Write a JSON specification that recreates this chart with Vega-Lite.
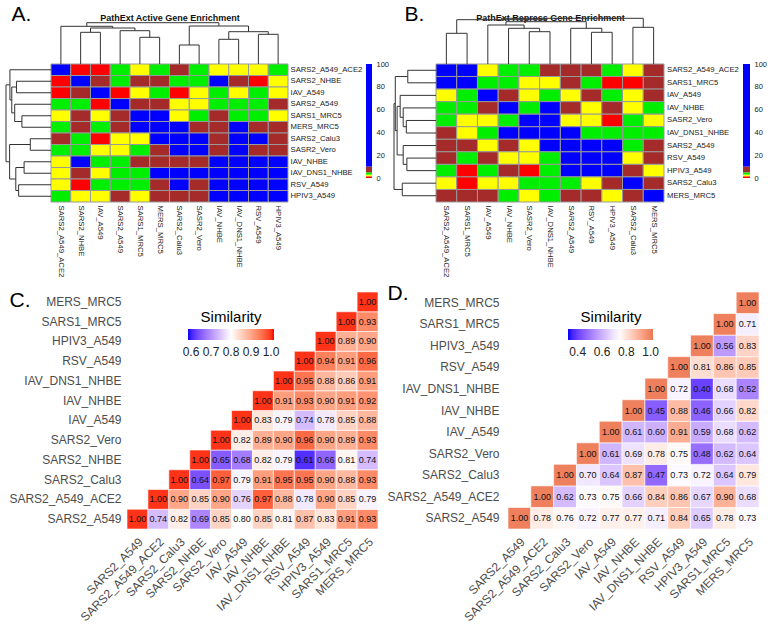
{
 "$schema": "https://vega.github.io/schema/vega-lite/v6.json",
 "background": "white",
 "padding": {"left": 5, "top": 3, "right": 3, "bottom": 3},
 "config": {"font": "Liberation Sans", "view": {"stroke": null}, "axis": {"grid": false, "labelFont": "Liberation Sans", "titleFont": "Liberation Sans"}, "legend": {"labelFont": "Liberation Sans", "titleFont": "Liberation Sans"}},
 "datasets": {
  "cb": [{"lo":0,"hi":1.5},{"lo":1.5,"hi":3},{"lo":3,"hi":5},{"lo":5,"hi":10},{"lo":10,"hi":100}],
  "dA": [
   {"p":4.5,"p2":5.5,"h":26.7,"h2":26.7},{"p":4.5,"p2":4.5,"h":0,"h2":26.7},{"p":5.5,"p2":5.5,"h":0,"h2":26.7},
   {"p":1.5,"p2":2.5,"h":31.7,"h2":31.7},{"p":1.5,"p2":1.5,"h":0,"h2":31.7},{"p":2.5,"p2":2.5,"h":0,"h2":31.7},
   {"p":3.5,"p2":5,"h":33.3,"h2":33.3},{"p":3.5,"p2":3.5,"h":0,"h2":33.3},{"p":5,"p2":5,"h":26.7,"h2":33.3},
   {"p":2,"p2":4.25,"h":36,"h2":36},{"p":2,"p2":2,"h":31.7,"h2":36},{"p":4.25,"p2":4.25,"h":33.3,"h2":36},
   {"p":0.5,"p2":3.125,"h":37.7,"h2":37.7},{"p":0.5,"p2":0.5,"h":0,"h2":37.7},{"p":3.125,"p2":3.125,"h":36,"h2":37.7},
   {"p":6.5,"p2":7.5,"h":19,"h2":19},{"p":6.5,"p2":6.5,"h":0,"h2":19},{"p":7.5,"p2":7.5,"h":0,"h2":19},
   {"p":8.5,"p2":9.5,"h":24.7,"h2":24.7},{"p":8.5,"p2":8.5,"h":0,"h2":24.7},{"p":9.5,"p2":9.5,"h":0,"h2":24.7},
   {"p":10.5,"p2":11.5,"h":29.7,"h2":29.7},{"p":10.5,"p2":10.5,"h":0,"h2":29.7},{"p":11.5,"p2":11.5,"h":0,"h2":29.7},
   {"p":9,"p2":11,"h":32.3,"h2":32.3},{"p":9,"p2":9,"h":24.7,"h2":32.3},{"p":11,"p2":11,"h":29.7,"h2":32.3},
   {"p":7,"p2":10,"h":38,"h2":38},{"p":7,"p2":7,"h":19,"h2":38},{"p":10,"p2":10,"h":32.3,"h2":38},
   {"p":1.8125,"p2":8.5,"h":41.3,"h2":41.3},{"p":1.8125,"p2":1.8125,"h":37.7,"h2":41.3},{"p":8.5,"p2":8.5,"h":38,"h2":41.3}
  ],
  "dB": [
   {"p":4.5,"p2":5.5,"h":32.3,"h2":32.3},{"p":4.5,"p2":4.5,"h":0,"h2":32.3},{"p":5.5,"p2":5.5,"h":0,"h2":32.3},
   {"p":3.5,"p2":5,"h":35.7,"h2":35.7},{"p":3.5,"p2":3.5,"h":0,"h2":35.7},{"p":5,"p2":5,"h":32.3,"h2":35.7},
   {"p":2.5,"p2":4.25,"h":39,"h2":39},{"p":2.5,"p2":2.5,"h":0,"h2":39},{"p":4.25,"p2":4.25,"h":35.7,"h2":39},
   {"p":7.5,"p2":8.5,"h":31.7,"h2":31.7},{"p":7.5,"p2":7.5,"h":0,"h2":31.7},{"p":8.5,"p2":8.5,"h":0,"h2":31.7},
   {"p":6.5,"p2":8,"h":35.7,"h2":35.7},{"p":6.5,"p2":6.5,"h":0,"h2":35.7},{"p":8,"p2":8,"h":31.7,"h2":35.7},
   {"p":3.375,"p2":7.25,"h":42.3,"h2":42.3},{"p":3.375,"p2":3.375,"h":39,"h2":42.3},{"p":7.25,"p2":7.25,"h":35.7,"h2":42.3},
   {"p":0.5,"p2":1.5,"h":30.7,"h2":30.7},{"p":0.5,"p2":0.5,"h":0,"h2":30.7},{"p":1.5,"p2":1.5,"h":0,"h2":30.7},
   {"p":1,"p2":5.3125,"h":44.3,"h2":44.3},{"p":1,"p2":1,"h":30.7,"h2":44.3},{"p":5.3125,"p2":5.3125,"h":42.3,"h2":44.3},
   {"p":9.5,"p2":10.5,"h":36.7,"h2":36.7},{"p":9.5,"p2":9.5,"h":0,"h2":36.7},{"p":10.5,"p2":10.5,"h":0,"h2":36.7},
   {"p":3.15625,"p2":10,"h":45.7,"h2":45.7},{"p":3.15625,"p2":3.15625,"h":44.3,"h2":45.7},{"p":10,"p2":10,"h":36.7,"h2":45.7}
  ],
  "heatA": [
   {"r":"SARS2_A549_ACE2","c":"SARS2_A549_ACE2","v":60},{"r":"SARS2_A549_ACE2","c":"SARS2_NHBE","v":1},{"r":"SARS2_A549_ACE2","c":"IAV_A549","v":1},{"r":"SARS2_A549_ACE2","c":"SARS2_A549","v":4},{"r":"SARS2_A549_ACE2","c":"SARS1_MRC5","v":2},{"r":"SARS2_A549_ACE2","c":"MERS_MRC5","v":4},{"r":"SARS2_A549_ACE2","c":"SARS2_Calu3","v":7},{"r":"SARS2_A549_ACE2","c":"SASR2_Vero","v":4},{"r":"SARS2_A549_ACE2","c":"IAV_NHBE","v":2},{"r":"SARS2_A549_ACE2","c":"IAV_DNS1_NHBE","v":2},{"r":"SARS2_A549_ACE2","c":"RSV_A549","v":2},{"r":"SARS2_A549_ACE2","c":"HPIV3_A549","v":4},
   {"r":"SARS2_NHBE","c":"SARS2_A549_ACE2","v":1},{"r":"SARS2_NHBE","c":"SARS2_NHBE","v":60},{"r":"SARS2_NHBE","c":"IAV_A549","v":7},{"r":"SARS2_NHBE","c":"SARS2_A549","v":4},{"r":"SARS2_NHBE","c":"SARS1_MRC5","v":7},{"r":"SARS2_NHBE","c":"MERS_MRC5","v":7},{"r":"SARS2_NHBE","c":"SARS2_Calu3","v":4},{"r":"SARS2_NHBE","c":"SASR2_Vero","v":4},{"r":"SARS2_NHBE","c":"IAV_NHBE","v":60},{"r":"SARS2_NHBE","c":"IAV_DNS1_NHBE","v":7},{"r":"SARS2_NHBE","c":"RSV_A549","v":1},{"r":"SARS2_NHBE","c":"HPIV3_A549","v":2},
   {"r":"IAV_A549","c":"SARS2_A549_ACE2","v":1},{"r":"IAV_A549","c":"SARS2_NHBE","v":7},{"r":"IAV_A549","c":"IAV_A549","v":60},{"r":"IAV_A549","c":"SARS2_A549","v":1},{"r":"IAV_A549","c":"SARS1_MRC5","v":2},{"r":"IAV_A549","c":"MERS_MRC5","v":4},{"r":"IAV_A549","c":"SARS2_Calu3","v":1},{"r":"IAV_A549","c":"SASR2_Vero","v":2},{"r":"IAV_A549","c":"IAV_NHBE","v":4},{"r":"IAV_A549","c":"IAV_DNS1_NHBE","v":2},{"r":"IAV_A549","c":"RSV_A549","v":4},{"r":"IAV_A549","c":"HPIV3_A549","v":2},
   {"r":"SARS2_A549","c":"SARS2_A549_ACE2","v":4},{"r":"SARS2_A549","c":"SARS2_NHBE","v":4},{"r":"SARS2_A549","c":"IAV_A549","v":1},{"r":"SARS2_A549","c":"SARS2_A549","v":60},{"r":"SARS2_A549","c":"SARS1_MRC5","v":7},{"r":"SARS2_A549","c":"MERS_MRC5","v":7},{"r":"SARS2_A549","c":"SARS2_Calu3","v":2},{"r":"SARS2_A549","c":"SASR2_Vero","v":2},{"r":"SARS2_A549","c":"IAV_NHBE","v":4},{"r":"SARS2_A549","c":"IAV_DNS1_NHBE","v":4},{"r":"SARS2_A549","c":"RSV_A549","v":4},{"r":"SARS2_A549","c":"HPIV3_A549","v":7},
   {"r":"SARS1_MRC5","c":"SARS2_A549_ACE2","v":2},{"r":"SARS1_MRC5","c":"SARS2_NHBE","v":7},{"r":"SARS1_MRC5","c":"IAV_A549","v":2},{"r":"SARS1_MRC5","c":"SARS2_A549","v":7},{"r":"SARS1_MRC5","c":"SARS1_MRC5","v":60},{"r":"SARS1_MRC5","c":"MERS_MRC5","v":60},{"r":"SARS1_MRC5","c":"SARS2_Calu3","v":2},{"r":"SARS1_MRC5","c":"SASR2_Vero","v":4},{"r":"SARS1_MRC5","c":"IAV_NHBE","v":7},{"r":"SARS1_MRC5","c":"IAV_DNS1_NHBE","v":4},{"r":"SARS1_MRC5","c":"RSV_A549","v":4},{"r":"SARS1_MRC5","c":"HPIV3_A549","v":2},
   {"r":"MERS_MRC5","c":"SARS2_A549_ACE2","v":4},{"r":"MERS_MRC5","c":"SARS2_NHBE","v":7},{"r":"MERS_MRC5","c":"IAV_A549","v":4},{"r":"MERS_MRC5","c":"SARS2_A549","v":7},{"r":"MERS_MRC5","c":"SARS1_MRC5","v":60},{"r":"MERS_MRC5","c":"MERS_MRC5","v":60},{"r":"MERS_MRC5","c":"SARS2_Calu3","v":60},{"r":"MERS_MRC5","c":"SASR2_Vero","v":7},{"r":"MERS_MRC5","c":"IAV_NHBE","v":7},{"r":"MERS_MRC5","c":"IAV_DNS1_NHBE","v":60},{"r":"MERS_MRC5","c":"RSV_A549","v":7},{"r":"MERS_MRC5","c":"HPIV3_A549","v":7},
   {"r":"SARS2_Calu3","c":"SARS2_A549_ACE2","v":7},{"r":"SARS2_Calu3","c":"SARS2_NHBE","v":4},{"r":"SARS2_Calu3","c":"IAV_A549","v":1},{"r":"SARS2_Calu3","c":"SARS2_A549","v":2},{"r":"SARS2_Calu3","c":"SARS1_MRC5","v":2},{"r":"SARS2_Calu3","c":"MERS_MRC5","v":60},{"r":"SARS2_Calu3","c":"SARS2_Calu3","v":60},{"r":"SARS2_Calu3","c":"SASR2_Vero","v":60},{"r":"SARS2_Calu3","c":"IAV_NHBE","v":7},{"r":"SARS2_Calu3","c":"IAV_DNS1_NHBE","v":60},{"r":"SARS2_Calu3","c":"RSV_A549","v":60},{"r":"SARS2_Calu3","c":"HPIV3_A549","v":7},
   {"r":"SASR2_Vero","c":"SARS2_A549_ACE2","v":4},{"r":"SASR2_Vero","c":"SARS2_NHBE","v":4},{"r":"SASR2_Vero","c":"IAV_A549","v":2},{"r":"SASR2_Vero","c":"SARS2_A549","v":2},{"r":"SASR2_Vero","c":"SARS1_MRC5","v":4},{"r":"SASR2_Vero","c":"MERS_MRC5","v":7},{"r":"SASR2_Vero","c":"SARS2_Calu3","v":60},{"r":"SASR2_Vero","c":"SASR2_Vero","v":60},{"r":"SASR2_Vero","c":"IAV_NHBE","v":7},{"r":"SASR2_Vero","c":"IAV_DNS1_NHBE","v":60},{"r":"SASR2_Vero","c":"RSV_A549","v":7},{"r":"SASR2_Vero","c":"HPIV3_A549","v":7},
   {"r":"IAV_NHBE","c":"SARS2_A549_ACE2","v":2},{"r":"IAV_NHBE","c":"SARS2_NHBE","v":60},{"r":"IAV_NHBE","c":"IAV_A549","v":4},{"r":"IAV_NHBE","c":"SARS2_A549","v":4},{"r":"IAV_NHBE","c":"SARS1_MRC5","v":7},{"r":"IAV_NHBE","c":"MERS_MRC5","v":7},{"r":"IAV_NHBE","c":"SARS2_Calu3","v":7},{"r":"IAV_NHBE","c":"SASR2_Vero","v":7},{"r":"IAV_NHBE","c":"IAV_NHBE","v":60},{"r":"IAV_NHBE","c":"IAV_DNS1_NHBE","v":60},{"r":"IAV_NHBE","c":"RSV_A549","v":60},{"r":"IAV_NHBE","c":"HPIV3_A549","v":60},
   {"r":"IAV_DNS1_NHBE","c":"SARS2_A549_ACE2","v":2},{"r":"IAV_DNS1_NHBE","c":"SARS2_NHBE","v":7},{"r":"IAV_DNS1_NHBE","c":"IAV_A549","v":2},{"r":"IAV_DNS1_NHBE","c":"SARS2_A549","v":4},{"r":"IAV_DNS1_NHBE","c":"SARS1_MRC5","v":4},{"r":"IAV_DNS1_NHBE","c":"MERS_MRC5","v":60},{"r":"IAV_DNS1_NHBE","c":"SARS2_Calu3","v":60},{"r":"IAV_DNS1_NHBE","c":"SASR2_Vero","v":60},{"r":"IAV_DNS1_NHBE","c":"IAV_NHBE","v":60},{"r":"IAV_DNS1_NHBE","c":"IAV_DNS1_NHBE","v":60},{"r":"IAV_DNS1_NHBE","c":"RSV_A549","v":60},{"r":"IAV_DNS1_NHBE","c":"HPIV3_A549","v":60},
   {"r":"RSV_A549","c":"SARS2_A549_ACE2","v":2},{"r":"RSV_A549","c":"SARS2_NHBE","v":1},{"r":"RSV_A549","c":"IAV_A549","v":4},{"r":"RSV_A549","c":"SARS2_A549","v":4},{"r":"RSV_A549","c":"SARS1_MRC5","v":4},{"r":"RSV_A549","c":"MERS_MRC5","v":7},{"r":"RSV_A549","c":"SARS2_Calu3","v":60},{"r":"RSV_A549","c":"SASR2_Vero","v":7},{"r":"RSV_A549","c":"IAV_NHBE","v":60},{"r":"RSV_A549","c":"IAV_DNS1_NHBE","v":60},{"r":"RSV_A549","c":"RSV_A549","v":60},{"r":"RSV_A549","c":"HPIV3_A549","v":60},
   {"r":"HPIV3_A549","c":"SARS2_A549_ACE2","v":4},{"r":"HPIV3_A549","c":"SARS2_NHBE","v":2},{"r":"HPIV3_A549","c":"IAV_A549","v":2},{"r":"HPIV3_A549","c":"SARS2_A549","v":7},{"r":"HPIV3_A549","c":"SARS1_MRC5","v":2},{"r":"HPIV3_A549","c":"MERS_MRC5","v":7},{"r":"HPIV3_A549","c":"SARS2_Calu3","v":7},{"r":"HPIV3_A549","c":"SASR2_Vero","v":7},{"r":"HPIV3_A549","c":"IAV_NHBE","v":60},{"r":"HPIV3_A549","c":"IAV_DNS1_NHBE","v":60},{"r":"HPIV3_A549","c":"RSV_A549","v":60},{"r":"HPIV3_A549","c":"HPIV3_A549","v":60}
  ],
  "heatB": [
   {"r":"SARS2_A549_ACE2","c":"SARS2_A549_ACE2","v":60},{"r":"SARS2_A549_ACE2","c":"SARS1_MRC5","v":60},{"r":"SARS2_A549_ACE2","c":"IAV_A549","v":2},{"r":"SARS2_A549_ACE2","c":"IAV_NHBE","v":4},{"r":"SARS2_A549_ACE2","c":"SASR2_Vero","v":4},{"r":"SARS2_A549_ACE2","c":"IAV_DNS1_NHBE","v":7},{"r":"SARS2_A549_ACE2","c":"SARS2_A549","v":7},{"r":"SARS2_A549_ACE2","c":"RSV_A549","v":7},{"r":"SARS2_A549_ACE2","c":"HPIV3_A549","v":4},{"r":"SARS2_A549_ACE2","c":"SARS2_Calu3","v":2},{"r":"SARS2_A549_ACE2","c":"MERS_MRC5","v":7},
   {"r":"SARS1_MRC5","c":"SARS2_A549_ACE2","v":60},{"r":"SARS1_MRC5","c":"SARS1_MRC5","v":60},{"r":"SARS1_MRC5","c":"IAV_A549","v":4},{"r":"SARS1_MRC5","c":"IAV_NHBE","v":4},{"r":"SARS1_MRC5","c":"SASR2_Vero","v":2},{"r":"SARS1_MRC5","c":"IAV_DNS1_NHBE","v":2},{"r":"SARS1_MRC5","c":"SARS2_A549","v":7},{"r":"SARS1_MRC5","c":"RSV_A549","v":4},{"r":"SARS1_MRC5","c":"HPIV3_A549","v":1},{"r":"SARS1_MRC5","c":"SARS2_Calu3","v":1},{"r":"SARS1_MRC5","c":"MERS_MRC5","v":7},
   {"r":"IAV_A549","c":"SARS2_A549_ACE2","v":2},{"r":"IAV_A549","c":"SARS1_MRC5","v":4},{"r":"IAV_A549","c":"IAV_A549","v":60},{"r":"IAV_A549","c":"IAV_NHBE","v":7},{"r":"IAV_A549","c":"SASR2_Vero","v":2},{"r":"IAV_A549","c":"IAV_DNS1_NHBE","v":4},{"r":"IAV_A549","c":"SARS2_A549","v":2},{"r":"IAV_A549","c":"RSV_A549","v":7},{"r":"IAV_A549","c":"HPIV3_A549","v":4},{"r":"IAV_A549","c":"SARS2_Calu3","v":2},{"r":"IAV_A549","c":"MERS_MRC5","v":7},
   {"r":"IAV_NHBE","c":"SARS2_A549_ACE2","v":4},{"r":"IAV_NHBE","c":"SARS1_MRC5","v":4},{"r":"IAV_NHBE","c":"IAV_A549","v":7},{"r":"IAV_NHBE","c":"IAV_NHBE","v":60},{"r":"IAV_NHBE","c":"SASR2_Vero","v":4},{"r":"IAV_NHBE","c":"IAV_DNS1_NHBE","v":60},{"r":"IAV_NHBE","c":"SARS2_A549","v":7},{"r":"IAV_NHBE","c":"RSV_A549","v":2},{"r":"IAV_NHBE","c":"HPIV3_A549","v":7},{"r":"IAV_NHBE","c":"SARS2_Calu3","v":2},{"r":"IAV_NHBE","c":"MERS_MRC5","v":4},
   {"r":"SASR2_Vero","c":"SARS2_A549_ACE2","v":4},{"r":"SASR2_Vero","c":"SARS1_MRC5","v":2},{"r":"SASR2_Vero","c":"IAV_A549","v":2},{"r":"SASR2_Vero","c":"IAV_NHBE","v":4},{"r":"SASR2_Vero","c":"SASR2_Vero","v":60},{"r":"SASR2_Vero","c":"IAV_DNS1_NHBE","v":60},{"r":"SASR2_Vero","c":"SARS2_A549","v":2},{"r":"SASR2_Vero","c":"RSV_A549","v":2},{"r":"SASR2_Vero","c":"HPIV3_A549","v":1},{"r":"SASR2_Vero","c":"SARS2_Calu3","v":4},{"r":"SASR2_Vero","c":"MERS_MRC5","v":2},
   {"r":"IAV_DNS1_NHBE","c":"SARS2_A549_ACE2","v":7},{"r":"IAV_DNS1_NHBE","c":"SARS1_MRC5","v":2},{"r":"IAV_DNS1_NHBE","c":"IAV_A549","v":4},{"r":"IAV_DNS1_NHBE","c":"IAV_NHBE","v":60},{"r":"IAV_DNS1_NHBE","c":"SASR2_Vero","v":60},{"r":"IAV_DNS1_NHBE","c":"IAV_DNS1_NHBE","v":60},{"r":"IAV_DNS1_NHBE","c":"SARS2_A549","v":60},{"r":"IAV_DNS1_NHBE","c":"RSV_A549","v":4},{"r":"IAV_DNS1_NHBE","c":"HPIV3_A549","v":4},{"r":"IAV_DNS1_NHBE","c":"SARS2_Calu3","v":4},{"r":"IAV_DNS1_NHBE","c":"MERS_MRC5","v":4},
   {"r":"SARS2_A549","c":"SARS2_A549_ACE2","v":7},{"r":"SARS2_A549","c":"SARS1_MRC5","v":7},{"r":"SARS2_A549","c":"IAV_A549","v":2},{"r":"SARS2_A549","c":"IAV_NHBE","v":7},{"r":"SARS2_A549","c":"SASR2_Vero","v":2},{"r":"SARS2_A549","c":"IAV_DNS1_NHBE","v":60},{"r":"SARS2_A549","c":"SARS2_A549","v":60},{"r":"SARS2_A549","c":"RSV_A549","v":60},{"r":"SARS2_A549","c":"HPIV3_A549","v":60},{"r":"SARS2_A549","c":"SARS2_Calu3","v":4},{"r":"SARS2_A549","c":"MERS_MRC5","v":7},
   {"r":"RSV_A549","c":"SARS2_A549_ACE2","v":7},{"r":"RSV_A549","c":"SARS1_MRC5","v":4},{"r":"RSV_A549","c":"IAV_A549","v":7},{"r":"RSV_A549","c":"IAV_NHBE","v":2},{"r":"RSV_A549","c":"SASR2_Vero","v":2},{"r":"RSV_A549","c":"IAV_DNS1_NHBE","v":4},{"r":"RSV_A549","c":"SARS2_A549","v":60},{"r":"RSV_A549","c":"RSV_A549","v":60},{"r":"RSV_A549","c":"HPIV3_A549","v":60},{"r":"RSV_A549","c":"SARS2_Calu3","v":2},{"r":"RSV_A549","c":"MERS_MRC5","v":7},
   {"r":"HPIV3_A549","c":"SARS2_A549_ACE2","v":4},{"r":"HPIV3_A549","c":"SARS1_MRC5","v":1},{"r":"HPIV3_A549","c":"IAV_A549","v":4},{"r":"HPIV3_A549","c":"IAV_NHBE","v":7},{"r":"HPIV3_A549","c":"SASR2_Vero","v":1},{"r":"HPIV3_A549","c":"IAV_DNS1_NHBE","v":4},{"r":"HPIV3_A549","c":"SARS2_A549","v":60},{"r":"HPIV3_A549","c":"RSV_A549","v":60},{"r":"HPIV3_A549","c":"HPIV3_A549","v":60},{"r":"HPIV3_A549","c":"SARS2_Calu3","v":7},{"r":"HPIV3_A549","c":"MERS_MRC5","v":2},
   {"r":"SARS2_Calu3","c":"SARS2_A549_ACE2","v":2},{"r":"SARS2_Calu3","c":"SARS1_MRC5","v":1},{"r":"SARS2_Calu3","c":"IAV_A549","v":2},{"r":"SARS2_Calu3","c":"IAV_NHBE","v":2},{"r":"SARS2_Calu3","c":"SASR2_Vero","v":4},{"r":"SARS2_Calu3","c":"IAV_DNS1_NHBE","v":4},{"r":"SARS2_Calu3","c":"SARS2_A549","v":4},{"r":"SARS2_Calu3","c":"RSV_A549","v":2},{"r":"SARS2_Calu3","c":"HPIV3_A549","v":7},{"r":"SARS2_Calu3","c":"SARS2_Calu3","v":60},{"r":"SARS2_Calu3","c":"MERS_MRC5","v":7},
   {"r":"MERS_MRC5","c":"SARS2_A549_ACE2","v":7},{"r":"MERS_MRC5","c":"SARS1_MRC5","v":7},{"r":"MERS_MRC5","c":"IAV_A549","v":7},{"r":"MERS_MRC5","c":"IAV_NHBE","v":4},{"r":"MERS_MRC5","c":"SASR2_Vero","v":2},{"r":"MERS_MRC5","c":"IAV_DNS1_NHBE","v":4},{"r":"MERS_MRC5","c":"SARS2_A549","v":7},{"r":"MERS_MRC5","c":"RSV_A549","v":7},{"r":"MERS_MRC5","c":"HPIV3_A549","v":2},{"r":"MERS_MRC5","c":"SARS2_Calu3","v":7},{"r":"MERS_MRC5","c":"MERS_MRC5","v":60}
  ],
  "simC": [
   {"r":"SARS2_A549","c":"SARS2_A549","v":1.00},{"r":"SARS2_A549","c":"SARS2_A549_ACE2","v":0.74},{"r":"SARS2_A549","c":"SARS2_Calu3","v":0.82},{"r":"SARS2_A549","c":"SARS2_NHBE","v":0.69},{"r":"SARS2_A549","c":"SARS2_Vero","v":0.85},{"r":"SARS2_A549","c":"IAV_A549","v":0.80},{"r":"SARS2_A549","c":"IAV_NHBE","v":0.85},{"r":"SARS2_A549","c":"IAV_DNS1_NHBE","v":0.81},{"r":"SARS2_A549","c":"RSV_A549","v":0.87},{"r":"SARS2_A549","c":"HPIV3_A549","v":0.83},{"r":"SARS2_A549","c":"SARS1_MRC5","v":0.91},{"r":"SARS2_A549","c":"MERS_MRC5","v":0.93},
   {"r":"SARS2_A549_ACE2","c":"SARS2_A549_ACE2","v":1.00},{"r":"SARS2_A549_ACE2","c":"SARS2_Calu3","v":0.90},{"r":"SARS2_A549_ACE2","c":"SARS2_NHBE","v":0.85},{"r":"SARS2_A549_ACE2","c":"SARS2_Vero","v":0.90},{"r":"SARS2_A549_ACE2","c":"IAV_A549","v":0.76},{"r":"SARS2_A549_ACE2","c":"IAV_NHBE","v":0.97},{"r":"SARS2_A549_ACE2","c":"IAV_DNS1_NHBE","v":0.88},{"r":"SARS2_A549_ACE2","c":"RSV_A549","v":0.78},{"r":"SARS2_A549_ACE2","c":"HPIV3_A549","v":0.90},{"r":"SARS2_A549_ACE2","c":"SARS1_MRC5","v":0.85},{"r":"SARS2_A549_ACE2","c":"MERS_MRC5","v":0.79},
   {"r":"SARS2_Calu3","c":"SARS2_Calu3","v":1.00},{"r":"SARS2_Calu3","c":"SARS2_NHBE","v":0.64},{"r":"SARS2_Calu3","c":"SARS2_Vero","v":0.97},{"r":"SARS2_Calu3","c":"IAV_A549","v":0.79},{"r":"SARS2_Calu3","c":"IAV_NHBE","v":0.91},{"r":"SARS2_Calu3","c":"IAV_DNS1_NHBE","v":0.95},{"r":"SARS2_Calu3","c":"RSV_A549","v":0.95},{"r":"SARS2_Calu3","c":"HPIV3_A549","v":0.90},{"r":"SARS2_Calu3","c":"SARS1_MRC5","v":0.88},{"r":"SARS2_Calu3","c":"MERS_MRC5","v":0.93},
   {"r":"SARS2_NHBE","c":"SARS2_NHBE","v":1.00},{"r":"SARS2_NHBE","c":"SARS2_Vero","v":0.65},{"r":"SARS2_NHBE","c":"IAV_A549","v":0.68},{"r":"SARS2_NHBE","c":"IAV_NHBE","v":0.82},{"r":"SARS2_NHBE","c":"IAV_DNS1_NHBE","v":0.79},{"r":"SARS2_NHBE","c":"RSV_A549","v":0.61},{"r":"SARS2_NHBE","c":"HPIV3_A549","v":0.66},{"r":"SARS2_NHBE","c":"SARS1_MRC5","v":0.81},{"r":"SARS2_NHBE","c":"MERS_MRC5","v":0.74},
   {"r":"SARS2_Vero","c":"SARS2_Vero","v":1.00},{"r":"SARS2_Vero","c":"IAV_A549","v":0.82},{"r":"SARS2_Vero","c":"IAV_NHBE","v":0.89},{"r":"SARS2_Vero","c":"IAV_DNS1_NHBE","v":0.90},{"r":"SARS2_Vero","c":"RSV_A549","v":0.96},{"r":"SARS2_Vero","c":"HPIV3_A549","v":0.90},{"r":"SARS2_Vero","c":"SARS1_MRC5","v":0.89},{"r":"SARS2_Vero","c":"MERS_MRC5","v":0.93},
   {"r":"IAV_A549","c":"IAV_A549","v":1.00},{"r":"IAV_A549","c":"IAV_NHBE","v":0.83},{"r":"IAV_A549","c":"IAV_DNS1_NHBE","v":0.79},{"r":"IAV_A549","c":"RSV_A549","v":0.74},{"r":"IAV_A549","c":"HPIV3_A549","v":0.78},{"r":"IAV_A549","c":"SARS1_MRC5","v":0.85},{"r":"IAV_A549","c":"MERS_MRC5","v":0.88},
   {"r":"IAV_NHBE","c":"IAV_NHBE","v":1.00},{"r":"IAV_NHBE","c":"IAV_DNS1_NHBE","v":0.91},{"r":"IAV_NHBE","c":"RSV_A549","v":0.93},{"r":"IAV_NHBE","c":"HPIV3_A549","v":0.90},{"r":"IAV_NHBE","c":"SARS1_MRC5","v":0.91},{"r":"IAV_NHBE","c":"MERS_MRC5","v":0.92},
   {"r":"IAV_DNS1_NHBE","c":"IAV_DNS1_NHBE","v":1.00},{"r":"IAV_DNS1_NHBE","c":"RSV_A549","v":0.95},{"r":"IAV_DNS1_NHBE","c":"HPIV3_A549","v":0.88},{"r":"IAV_DNS1_NHBE","c":"SARS1_MRC5","v":0.86},{"r":"IAV_DNS1_NHBE","c":"MERS_MRC5","v":0.91},
   {"r":"RSV_A549","c":"RSV_A549","v":1.00},{"r":"RSV_A549","c":"HPIV3_A549","v":0.94},{"r":"RSV_A549","c":"SARS1_MRC5","v":0.91},{"r":"RSV_A549","c":"MERS_MRC5","v":0.96},
   {"r":"HPIV3_A549","c":"HPIV3_A549","v":1.00},{"r":"HPIV3_A549","c":"SARS1_MRC5","v":0.89},{"r":"HPIV3_A549","c":"MERS_MRC5","v":0.90},
   {"r":"SARS1_MRC5","c":"SARS1_MRC5","v":1.00},{"r":"SARS1_MRC5","c":"MERS_MRC5","v":0.93},
   {"r":"MERS_MRC5","c":"MERS_MRC5","v":1.00}
  ],
  "simD": [
   {"r":"SARS2_A549","c":"SARS2_A549","v":1.00},{"r":"SARS2_A549","c":"SARS2_A549_ACE2","v":0.78},{"r":"SARS2_A549","c":"SARS2_Calu3","v":0.76},{"r":"SARS2_A549","c":"SARS2_Vero","v":0.72},{"r":"SARS2_A549","c":"IAV_A549","v":0.77},{"r":"SARS2_A549","c":"IAV_NHBE","v":0.77},{"r":"SARS2_A549","c":"IAV_DNS1_NHBE","v":0.71},{"r":"SARS2_A549","c":"RSV_A549","v":0.84},{"r":"SARS2_A549","c":"HPIV3_A549","v":0.65},{"r":"SARS2_A549","c":"SARS1_MRC5","v":0.78},{"r":"SARS2_A549","c":"MERS_MRC5","v":0.73},
   {"r":"SARS2_A549_ACE2","c":"SARS2_A549_ACE2","v":1.00},{"r":"SARS2_A549_ACE2","c":"SARS2_Calu3","v":0.62},{"r":"SARS2_A549_ACE2","c":"SARS2_Vero","v":0.73},{"r":"SARS2_A549_ACE2","c":"IAV_A549","v":0.75},{"r":"SARS2_A549_ACE2","c":"IAV_NHBE","v":0.66},{"r":"SARS2_A549_ACE2","c":"IAV_DNS1_NHBE","v":0.84},{"r":"SARS2_A549_ACE2","c":"RSV_A549","v":0.86},{"r":"SARS2_A549_ACE2","c":"HPIV3_A549","v":0.67},{"r":"SARS2_A549_ACE2","c":"SARS1_MRC5","v":0.90},{"r":"SARS2_A549_ACE2","c":"MERS_MRC5","v":0.68},
   {"r":"SARS2_Calu3","c":"SARS2_Calu3","v":1.00},{"r":"SARS2_Calu3","c":"SARS2_Vero","v":0.70},{"r":"SARS2_Calu3","c":"IAV_A549","v":0.64},{"r":"SARS2_Calu3","c":"IAV_NHBE","v":0.87},{"r":"SARS2_Calu3","c":"IAV_DNS1_NHBE","v":0.47},{"r":"SARS2_Calu3","c":"RSV_A549","v":0.73},{"r":"SARS2_Calu3","c":"HPIV3_A549","v":0.72},{"r":"SARS2_Calu3","c":"SARS1_MRC5","v":0.64},{"r":"SARS2_Calu3","c":"MERS_MRC5","v":0.79},
   {"r":"SARS2_Vero","c":"SARS2_Vero","v":1.00},{"r":"SARS2_Vero","c":"IAV_A549","v":0.61},{"r":"SARS2_Vero","c":"IAV_NHBE","v":0.69},{"r":"SARS2_Vero","c":"IAV_DNS1_NHBE","v":0.78},{"r":"SARS2_Vero","c":"RSV_A549","v":0.75},{"r":"SARS2_Vero","c":"HPIV3_A549","v":0.48},{"r":"SARS2_Vero","c":"SARS1_MRC5","v":0.62},{"r":"SARS2_Vero","c":"MERS_MRC5","v":0.64},
   {"r":"IAV_A549","c":"IAV_A549","v":1.00},{"r":"IAV_A549","c":"IAV_NHBE","v":0.61},{"r":"IAV_A549","c":"IAV_DNS1_NHBE","v":0.60},{"r":"IAV_A549","c":"RSV_A549","v":0.91},{"r":"IAV_A549","c":"HPIV3_A549","v":0.59},{"r":"IAV_A549","c":"SARS1_MRC5","v":0.68},{"r":"IAV_A549","c":"MERS_MRC5","v":0.62},
   {"r":"IAV_NHBE","c":"IAV_NHBE","v":1.00},{"r":"IAV_NHBE","c":"IAV_DNS1_NHBE","v":0.45},{"r":"IAV_NHBE","c":"RSV_A549","v":0.88},{"r":"IAV_NHBE","c":"HPIV3_A549","v":0.46},{"r":"IAV_NHBE","c":"SARS1_MRC5","v":0.66},{"r":"IAV_NHBE","c":"MERS_MRC5","v":0.82},
   {"r":"IAV_DNS1_NHBE","c":"IAV_DNS1_NHBE","v":1.00},{"r":"IAV_DNS1_NHBE","c":"RSV_A549","v":0.72},{"r":"IAV_DNS1_NHBE","c":"HPIV3_A549","v":0.40},{"r":"IAV_DNS1_NHBE","c":"SARS1_MRC5","v":0.68},{"r":"IAV_DNS1_NHBE","c":"MERS_MRC5","v":0.52},
   {"r":"RSV_A549","c":"RSV_A549","v":1.00},{"r":"RSV_A549","c":"HPIV3_A549","v":0.81},{"r":"RSV_A549","c":"SARS1_MRC5","v":0.86},{"r":"RSV_A549","c":"MERS_MRC5","v":0.85},
   {"r":"HPIV3_A549","c":"HPIV3_A549","v":1.00},{"r":"HPIV3_A549","c":"SARS1_MRC5","v":0.56},{"r":"HPIV3_A549","c":"MERS_MRC5","v":0.83},
   {"r":"SARS1_MRC5","c":"SARS1_MRC5","v":1.00},{"r":"SARS1_MRC5","c":"MERS_MRC5","v":0.71},
   {"r":"MERS_MRC5","c":"MERS_MRC5","v":1.00}
  ]
 },
 "spacing": 5,
 "resolve": {"scale": {"x": "independent", "y": "independent", "color": "independent"}, "legend": {"color": "independent"}},
 "vconcat": [
  {
   "spacing": 4,
   "resolve": {"scale": {"x": "independent", "y": "independent", "color": "independent"}},
   "hconcat": [
    {
     "width": 237, "height": 138,
     "layer": [
      {"data": {"name": "heatA"}, "mark": {"type": "rect", "stroke": "#999999", "strokeWidth": 1},
       "encoding": {
        "x": {"field": "c", "type": "nominal", "sort": ["SARS2_A549_ACE2","SARS2_NHBE","IAV_A549","SARS2_A549","SARS1_MRC5","MERS_MRC5","SARS2_Calu3","SASR2_Vero","IAV_NHBE","IAV_DNS1_NHBE","RSV_A549","HPIV3_A549"], "scale": {"paddingInner": 0, "paddingOuter": 0}, "axis": {"orient": "bottom", "title": null, "labelAngle": 90, "labelFontSize": 7.7, "labelColor": "#222", "ticks": false, "domain": false, "labelPadding": 3}},
        "y": {"field": "r", "type": "nominal", "sort": ["SARS2_A549_ACE2","SARS2_NHBE","IAV_A549","SARS2_A549","SARS1_MRC5","MERS_MRC5","SARS2_Calu3","SASR2_Vero","IAV_NHBE","IAV_DNS1_NHBE","RSV_A549","HPIV3_A549"], "scale": {"paddingInner": 0, "paddingOuter": 0}, "axis": {"orient": "right", "title": null, "labelFontSize": 7.7, "labelColor": "#222", "ticks": false, "domain": false, "labelPadding": 2}},
        "color": {"field": "v", "type": "quantitative", "scale": {"type": "threshold", "domain": [1.5, 3, 5, 10], "range": ["#FF0000", "#FFFF00", "#00EE00", "#A52A2A", "#0000FF"]}, "legend": null}
       }},
      {"data": {"name": "dA"}, "mark": {"type": "rule", "color": "#333333", "strokeWidth": 1},
       "encoding": {
        "x": {"field": "p", "type": "quantitative", "scale": {"domain": [0, 12], "nice": false, "zero": false}, "axis": {"orient": "top", "title": "PathExt Active Gene Enrichment", "labels": false, "ticks": false, "domain": false, "titleFontSize": 9, "titleFontWeight": "bold", "titleColor": "#111111", "titleY": -44, "titleBaseline": "alphabetic"}},
        "x2": {"field": "p2"},
        "y": {"field": "h", "type": "quantitative", "scale": {"domain": [0, 41.3], "range": [0, -41.3], "nice": false, "zero": false}, "axis": null},
        "y2": {"field": "h2"}
       }},
      {"data": {"name": "dA"}, "mark": {"type": "rule", "color": "#333333", "strokeWidth": 1},
       "encoding": {
        "y": {"field": "p", "type": "quantitative", "scale": {"domain": [0, 12], "reverse": true, "nice": false, "zero": false}, "axis": null},
        "y2": {"field": "p2"},
        "x": {"field": "h", "type": "quantitative", "scale": {"domain": [0, 41.3], "range": [0, -45], "nice": false, "zero": false}, "axis": {"orient": "top", "title": "A.", "labels": false, "ticks": false, "domain": false, "titleFontSize": 21, "titleFontWeight": "normal", "titleColor": "#000000", "titleX": -40, "titleY": -44, "titleAlign": "left", "titleBaseline": "alphabetic", "titleAngle": 0}},
        "x2": {"field": "h2"}
       }}
     ],
     "resolve": {"scale": {"x": "independent", "y": "independent", "color": "independent"}, "axis": {"x": "independent", "y": "independent"}}
    },
    {
     "width": 6, "height": 114,
     "data": {"name": "cb"},
     "mark": "rect",
     "encoding": {
      "y": {"field": "lo", "type": "quantitative", "scale": {"domain": [0, 100], "nice": false}, "axis": {"orient": "right", "values": [0, 20, 40, 60, 80, 100], "title": null, "ticks": false, "domain": false, "labelFontSize": 7.5, "labelColor": "#222", "labelPadding": 4, "labelFlush": false, "labelOverlap": false}},
      "y2": {"field": "hi"},
      "color": {"field": "lo", "type": "quantitative", "scale": {"type": "threshold", "domain": [1.5, 3, 5, 10], "range": ["#FF0000", "#FFFF00", "#00EE00", "#A52A2A", "#0000FF"]}, "legend": null}
     }
    },
    {
     "width": 228, "height": 138,
     "layer": [
      {"data": {"name": "heatB"}, "mark": {"type": "rect", "stroke": "#999999", "strokeWidth": 1},
       "encoding": {
        "x": {"field": "c", "type": "nominal", "sort": ["SARS2_A549_ACE2","SARS1_MRC5","IAV_A549","IAV_NHBE","SASR2_Vero","IAV_DNS1_NHBE","SARS2_A549","RSV_A549","HPIV3_A549","SARS2_Calu3","MERS_MRC5"], "scale": {"paddingInner": 0, "paddingOuter": 0}, "axis": {"orient": "bottom", "title": null, "labelAngle": 90, "labelFontSize": 7.7, "labelColor": "#222", "ticks": false, "domain": false, "labelPadding": 3}},
        "y": {"field": "r", "type": "nominal", "sort": ["SARS2_A549_ACE2","SARS1_MRC5","IAV_A549","IAV_NHBE","SASR2_Vero","IAV_DNS1_NHBE","SARS2_A549","RSV_A549","HPIV3_A549","SARS2_Calu3","MERS_MRC5"], "scale": {"paddingInner": 0, "paddingOuter": 0}, "axis": {"orient": "right", "title": null, "labelFontSize": 7.7, "labelColor": "#222", "ticks": false, "domain": false, "labelPadding": 2.5}},
        "color": {"field": "v", "type": "quantitative", "scale": {"type": "threshold", "domain": [1.5, 3, 5, 10], "range": ["#FF0000", "#FFFF00", "#00EE00", "#A52A2A", "#0000FF"]}, "legend": null}
       }},
      {"data": {"name": "dB"}, "mark": {"type": "rule", "color": "#333333", "strokeWidth": 1},
       "encoding": {
        "x": {"field": "p", "type": "quantitative", "scale": {"domain": [0, 11], "nice": false, "zero": false}, "axis": {"orient": "top", "title": "PathExt Repress Gene Enrichment", "labels": false, "ticks": false, "domain": false, "titleFontSize": 9, "titleFontWeight": "bold", "titleColor": "#111111", "titleY": -44, "titleBaseline": "alphabetic"}},
        "x2": {"field": "p2"},
        "y": {"field": "h", "type": "quantitative", "scale": {"domain": [0, 45.7], "range": [0, -45.7], "nice": false, "zero": false}, "axis": null},
        "y2": {"field": "h2"}
       }},
      {"data": {"name": "dB"}, "mark": {"type": "rule", "color": "#333333", "strokeWidth": 1},
       "encoding": {
        "y": {"field": "p", "type": "quantitative", "scale": {"domain": [0, 11], "reverse": true, "nice": false, "zero": false}, "axis": null},
        "y2": {"field": "p2"},
        "x": {"field": "h", "type": "quantitative", "scale": {"domain": [0, 45.7], "range": [0, -42], "nice": false, "zero": false}, "axis": {"orient": "top", "title": "B.", "labels": false, "ticks": false, "domain": false, "titleFontSize": 21, "titleFontWeight": "normal", "titleColor": "#000000", "titleX": -32, "titleY": -44, "titleAlign": "left", "titleBaseline": "alphabetic", "titleAngle": 0}},
        "x2": {"field": "h2"}
       }}
     ],
     "resolve": {"scale": {"x": "independent", "y": "independent", "color": "independent"}, "axis": {"x": "independent", "y": "independent"}}
    },
    {
     "width": 7, "height": 114,
     "data": {"name": "cb"},
     "mark": "rect",
     "encoding": {
      "y": {"field": "lo", "type": "quantitative", "scale": {"domain": [0, 100], "nice": false}, "axis": {"orient": "right", "values": [0, 20, 40, 60, 80, 100], "title": null, "ticks": false, "domain": false, "labelFontSize": 7.5, "labelColor": "#222", "labelPadding": 4, "labelFlush": false, "labelOverlap": false}},
      "y2": {"field": "hi"},
      "color": {"field": "lo", "type": "quantitative", "scale": {"type": "threshold", "domain": [1.5, 3, 5, 10], "range": ["#FF0000", "#FFFF00", "#00EE00", "#A52A2A", "#0000FF"]}, "legend": null}
     }
    }
   ]
  },
  {
   "spacing": 7,
   "resolve": {"scale": {"x": "independent", "y": "independent", "color": "independent"}, "legend": {"color": "independent"}},
   "hconcat": [
    {
     "width": 327, "height": 237,
     "data": {"name": "simC"},
     "encoding": {
      "x": {"field": "c", "type": "nominal", "sort": ["SARS2_A549","SARS2_A549_ACE2","SARS2_Calu3","SARS2_NHBE","SARS2_Vero","IAV_A549","IAV_NHBE","IAV_DNS1_NHBE","RSV_A549","HPIV3_A549","SARS1_MRC5","MERS_MRC5"], "scale": {"paddingInner": 0, "paddingOuter": 0, "range": [76, 327]}, "axis": {"title": null, "labelAngle": -45, "labelFontSize": 12, "labelColor": "#4d4d4d", "ticks": false, "domain": false, "labelPadding": 7}},
      "y": {"field": "r", "type": "nominal", "sort": ["MERS_MRC5","SARS1_MRC5","HPIV3_A549","RSV_A549","IAV_DNS1_NHBE","IAV_NHBE","IAV_A549","SARS2_Vero","SARS2_NHBE","SARS2_Calu3","SARS2_A549_ACE2","SARS2_A549"], "scale": {"paddingInner": 0, "paddingOuter": 0}, "axis": {"offset": -76, "title": "C.", "titleAngle": 0, "titleX": -118, "titleY": 14.5, "titleAlign": "left", "titleBaseline": "alphabetic", "titleFontSize": 21, "titleFontWeight": "normal", "titleColor": "#000000", "labelFontSize": 12, "labelColor": "#4d4d4d", "ticks": false, "domain": false, "labelPadding": 6}}
     },
     "layer": [
      {"mark": {"type": "rect", "stroke": "white", "strokeWidth": 0.6},
       "encoding": {"color": {"field": "v", "type": "quantitative", "scale": {"domain": [0.585, 0.8, 1.015], "range": ["#0000FF", "#FFFFFF", "#FF0000"], "interpolate": "lab"},
        "legend": {"orient": "none", "legendX": 137, "legendY": 18, "direction": "horizontal", "title": "Similarity", "titleFontSize": 15, "titleFontWeight": "normal", "titleColor": "#000000", "titleAnchor": "middle", "titlePadding": 4, "gradientLength": 86, "gradientThickness": 11, "gradientStrokeWidth": 0, "values": [0.6, 0.7, 0.8, 0.9, 1.0], "format": ".1f", "labelFontSize": 12, "labelColor": "#222", "labelOffset": 7, "labelAlign": "center", "labelOverlap": false}}}},
      {"mark": {"type": "text", "fontSize": 9, "color": "#111111"},
       "encoding": {"text": {"field": "v", "type": "quantitative", "format": ".2f"}}}
     ]
    },
    {
     "width": 251, "height": 237,
     "data": {"name": "simD"},
     "encoding": {
      "x": {"field": "c", "type": "nominal", "sort": ["SARS2_A549","SARS2_A549_ACE2","SARS2_Calu3","SARS2_Vero","IAV_A549","IAV_NHBE","IAV_DNS1_NHBE","RSV_A549","HPIV3_A549","SARS1_MRC5","MERS_MRC5"], "scale": {"paddingInner": 0, "paddingOuter": 0}, "axis": {"title": null, "labelAngle": -45, "labelFontSize": 12, "labelColor": "#4d4d4d", "ticks": false, "domain": false, "labelPadding": 7}},
      "y": {"field": "r", "type": "nominal", "sort": ["MERS_MRC5","SARS1_MRC5","HPIV3_A549","RSV_A549","IAV_DNS1_NHBE","IAV_NHBE","IAV_A549","SARS2_Vero","SARS2_Calu3","SARS2_A549_ACE2","SARS2_A549"], "scale": {"paddingInner": 0, "paddingOuter": 0}, "axis": {"title": "D.", "titleAngle": 0, "titleX": -121, "titleY": 7, "titleAlign": "left", "titleBaseline": "alphabetic", "titleFontSize": 21, "titleFontWeight": "normal", "titleColor": "#000000", "labelFontSize": 12, "labelColor": "#4d4d4d", "ticks": false, "domain": false, "labelPadding": 9}}
     },
     "layer": [
      {"mark": {"type": "rect", "stroke": "white", "strokeWidth": 0.6},
       "encoding": {"color": {"field": "v", "type": "quantitative", "scale": {"domain": [0.32, 0.74, 1.02], "range": ["#0000FF", "#FFFFFF", "#EC7652"], "interpolate": "lab"},
        "legend": {"orient": "none", "legendX": 60, "legendY": 18, "direction": "horizontal", "title": "Similarity", "titleFontSize": 15, "titleFontWeight": "normal", "titleColor": "#000000", "titleAnchor": "middle", "titlePadding": 4, "gradientLength": 85, "gradientThickness": 11, "gradientStrokeWidth": 0, "values": [0.4, 0.6, 0.8, 1.0], "format": ".1f", "labelFontSize": 12, "labelColor": "#222", "labelOffset": 7, "labelAlign": "center", "labelOverlap": false}}}},
      {"mark": {"type": "text", "fontSize": 9, "color": "#111111"},
       "encoding": {"text": {"field": "v", "type": "quantitative", "format": ".2f"}}}
     ]
    }
   ]
  }
 ]
}
